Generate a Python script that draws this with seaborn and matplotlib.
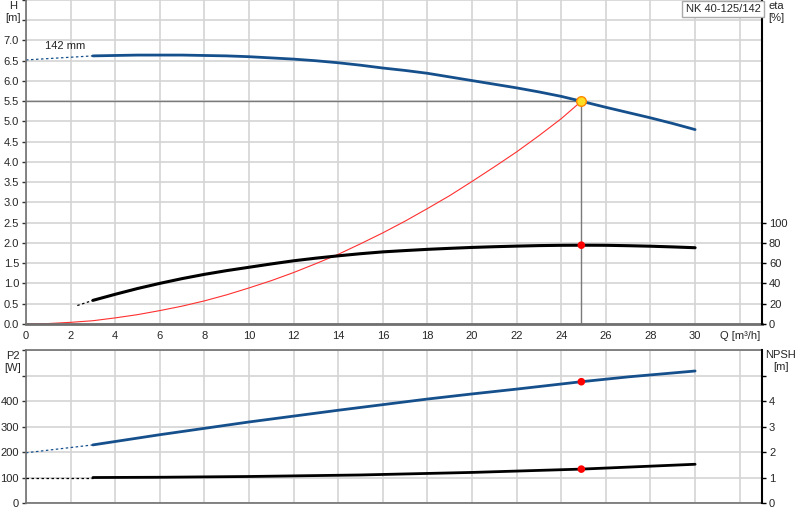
import numpy as np
import matplotlib
matplotlib.use("Agg")
from matplotlib import pyplot as plt
import seaborn as sns

# pump curve data
q_h = [3, 4, 5, 6, 7, 8, 9, 10, 11, 12, 13, 14, 15, 16, 17, 18, 19, 20, 21, 22,
       23, 24, 24.9, 26, 27, 28, 29, 30]
h_vals = [6.62, 6.63, 6.64, 6.64, 6.64, 6.63, 6.62, 6.60, 6.57, 6.54, 6.50, 6.45,
          6.39, 6.32, 6.26, 6.19, 6.10, 6.01, 5.92, 5.83, 5.73, 5.62, 5.50, 5.35,
          5.22, 5.09, 4.95, 4.80]
q_h_ext = [0, 3]
h_ext = [6.52, 6.62]

q_sys = [0, 1, 2, 3, 4, 5, 6, 7, 8, 9, 10, 11, 12, 13, 14, 15, 16, 17, 18, 19,
         20, 21, 22, 23, 24, 24.9]
h_sys = [0, 0.01, 0.04, 0.08, 0.15, 0.23, 0.33, 0.44, 0.57, 0.72, 0.89, 1.07,
         1.27, 1.49, 1.72, 1.98, 2.25, 2.54, 2.85, 3.17, 3.52, 3.88, 4.25, 4.65,
         5.07, 5.5]

q_eta = [3, 4, 5, 6, 7, 8, 9, 10, 11, 12, 13, 14, 15, 16, 17, 18, 19, 20, 21,
         22, 23, 24, 25, 26, 27, 28, 29, 30]
eta_vals = [23.3, 29.3, 35, 40.1, 44.8, 49, 52.7, 56, 59.3, 62.4, 65, 67.3, 69.4,
            71.2, 72.5, 73.7, 74.7, 75.6, 76.3, 76.9, 77.4, 77.7, 77.8, 77.7,
            77.3, 76.8, 76.1, 75.3]
q_eta_ext = [2.3, 3]
eta_ext = [18.2, 23.3]

q_p2 = [3, 6, 8, 10, 12, 14, 16, 18, 20, 22, 24.9, 27, 30]
p2_vals = [228, 268, 293, 318, 341, 364, 386, 408, 428, 447, 476, 495, 518]
q_p2_ext = [0, 3]
p2_ext = [197, 228]

q_npsh = [3, 6, 10, 15, 20, 24.9, 30]
npsh_vals = [1.0, 1.01, 1.04, 1.10, 1.20, 1.33, 1.52]
q_npsh_ext = [0, 3]
npsh_ext = [1.0, 1.0]

q_op, h_op, eta_op, p2_op, npsh_op = 24.9, 5.5, 77.8, 476, 1.33

x_ticks = list(range(0, 33, 2))
x_labels = [str(t) for t in range(0, 31, 2)] + ["Q [m\u00b3/h]"]
h_ticks = [i * 0.5 for i in range(17)]
h_labels = ["%.1f" % t if t <= 7 else "" for t in h_ticks]
eta_ticks = [0, 20, 40, 60, 80, 100]
p2_ticks = [0, 100, 200, 300, 400, 500, 600]
p2_labels = ["0", "100", "200", "300", "400", "", ""]
npsh_ticks = [0, 1, 2, 3, 4, 5]
npsh_labels = ["0", "1", "2", "3", "4", ""]

BLUE = "#16508c"
GRID = "#d4d4d4"
SPINE = "#707070"

sns.set_style("white")
plt.rcParams["font.family"] = ["Liberation Sans", "DejaVu Sans"]
plt.rcParams["font.size"] = 8

fig = plt.figure(figsize=(8, 5.2), dpi=100)
ax1 = fig.add_axes([0.0325, 0.377, 0.92, 0.623])
ax2 = fig.add_axes([0.0325, 0.0327, 0.92, 0.294])


def style_axes(ax):
    ax.set_xlim(0, 33)
    ax.set_xticks(x_ticks)
    ax.grid(True, color=GRID, linewidth=1.2)
    ax.set_axisbelow(True)
    for s in ["left", "bottom", "top"]:
        ax.spines[s].set_color(SPINE)
        ax.spines[s].set_linewidth(1.2)
    ax.spines["right"].set_visible(False)
    ax.tick_params(axis="both", direction="out", length=3, width=1,
                   color="#333333", labelsize=8, pad=2)


def style_right(ax):
    ax.grid(False)
    for s in ["left", "bottom", "top"]:
        ax.spines[s].set_visible(False)
    ax.spines["right"].set_color("black")
    ax.spines["right"].set_linewidth(1.5)
    ax.tick_params(axis="y", direction="out", length=3, width=1,
                   color="black", labelsize=8, pad=2)


# ---- top: head / efficiency ----
style_axes(ax1)
ax1.spines["top"].set_visible(False)
ax1.spines["bottom"].set_linewidth(2)
ax1.set_ylim(0, 8)
ax1.set_yticks(h_ticks)
ax1.set_yticklabels(h_labels)
ax1.set_xticklabels(x_labels)

ax1.plot([0, q_op], [h_op, h_op], color="#7a7a7a", lw=1, zorder=2)
ax1.plot([q_op, q_op], [0, h_op], color="#7a7a7a", lw=1, zorder=2)

sns.lineplot(x=q_h_ext, y=h_ext, ax=ax1, color=BLUE, lw=0.9, ls=(0, (2, 2)), sort=False)
sns.lineplot(x=q_h, y=h_vals, ax=ax1, color=BLUE, lw=2, sort=False)
sns.lineplot(x=q_sys, y=h_sys, ax=ax1, color="#ff3030", lw=0.8, sort=False)
ax1.text(0.85, 6.78, "142 mm", fontsize=8, color="#222222")
ax1.scatter([q_op], [h_op], s=48, color="#ffdd22", edgecolor="#ff8800", lw=1, zorder=5)

ax1e = ax1.twinx()
ax1e.set_ylim(0, 320)
ax1e.set_yticks(eta_ticks)
style_right(ax1e)
sns.lineplot(x=q_eta_ext, y=eta_ext, ax=ax1e, color="black", lw=0.9, ls=(0, (2, 2)), sort=False)
sns.lineplot(x=q_eta, y=eta_vals, ax=ax1e, color="black", lw=2.2, sort=False)
sns.scatterplot(x=[q_op], y=[eta_op], ax=ax1e, color="#ff0000", s=30, edgecolor="none", zorder=5)
ax1e.set_xlim(0, 33)

# ---- bottom: power / NPSH ----
style_axes(ax2)
ax2.set_ylim(0, 600)
ax2.set_yticks(p2_ticks)
ax2.set_yticklabels(p2_labels)
ax2.tick_params(axis="x", length=0, labelbottom=False)
sns.lineplot(x=q_p2_ext, y=p2_ext, ax=ax2, color=BLUE, lw=0.9, ls=(0, (2, 2)), sort=False)
sns.lineplot(x=q_p2, y=p2_vals, ax=ax2, color=BLUE, lw=2, sort=False)
sns.scatterplot(x=[q_op], y=[p2_op], ax=ax2, color="#ff0000", s=30, edgecolor="none", zorder=5)

ax2n = ax2.twinx()
ax2n.set_ylim(0, 6)
ax2n.set_yticks(npsh_ticks)
ax2n.set_yticklabels(npsh_labels)
style_right(ax2n)
sns.lineplot(x=q_npsh_ext, y=npsh_ext, ax=ax2n, color="black", lw=0.9, ls=(0, (2, 2)), sort=False)
sns.lineplot(x=q_npsh, y=npsh_vals, ax=ax2n, color="black", lw=2, sort=False)
sns.scatterplot(x=[q_op], y=[npsh_op], ax=ax2n, color="#ff0000", s=30, edgecolor="none", zorder=5)
ax2n.set_xlim(0, 33)

# axis titles
fig.text(13 / 800, 1 - 6 / 520, "H", ha="center", va="center", fontsize=8)
fig.text(13 / 800, 1 - 18 / 520, "[m]", ha="center", va="center", fontsize=8)
fig.text(776 / 800, 1 - 6 / 520, "eta", ha="center", va="center", fontsize=8)
fig.text(776 / 800, 1 - 18 / 520, "[%]", ha="center", va="center", fontsize=8)
fig.text(13 / 800, 1 - 356 / 520, "P2", ha="center", va="center", fontsize=8)
fig.text(13 / 800, 1 - 368 / 520, "[W]", ha="center", va="center", fontsize=8)
fig.text(781 / 800, 1 - 355 / 520, "NPSH", ha="center", va="center", fontsize=8)
fig.text(781 / 800, 1 - 367 / 520, "[m]", ha="center", va="center", fontsize=8)

# pump name box
fig.text(723 / 800, 1 - 9 / 520, "NK 40-125/142", ha="center", va="center", fontsize=8,
         bbox=dict(boxstyle="square,pad=0.3", facecolor="white", edgecolor="#aaaaaa", lw=1))

fig.savefig("out.png", dpi=100)
